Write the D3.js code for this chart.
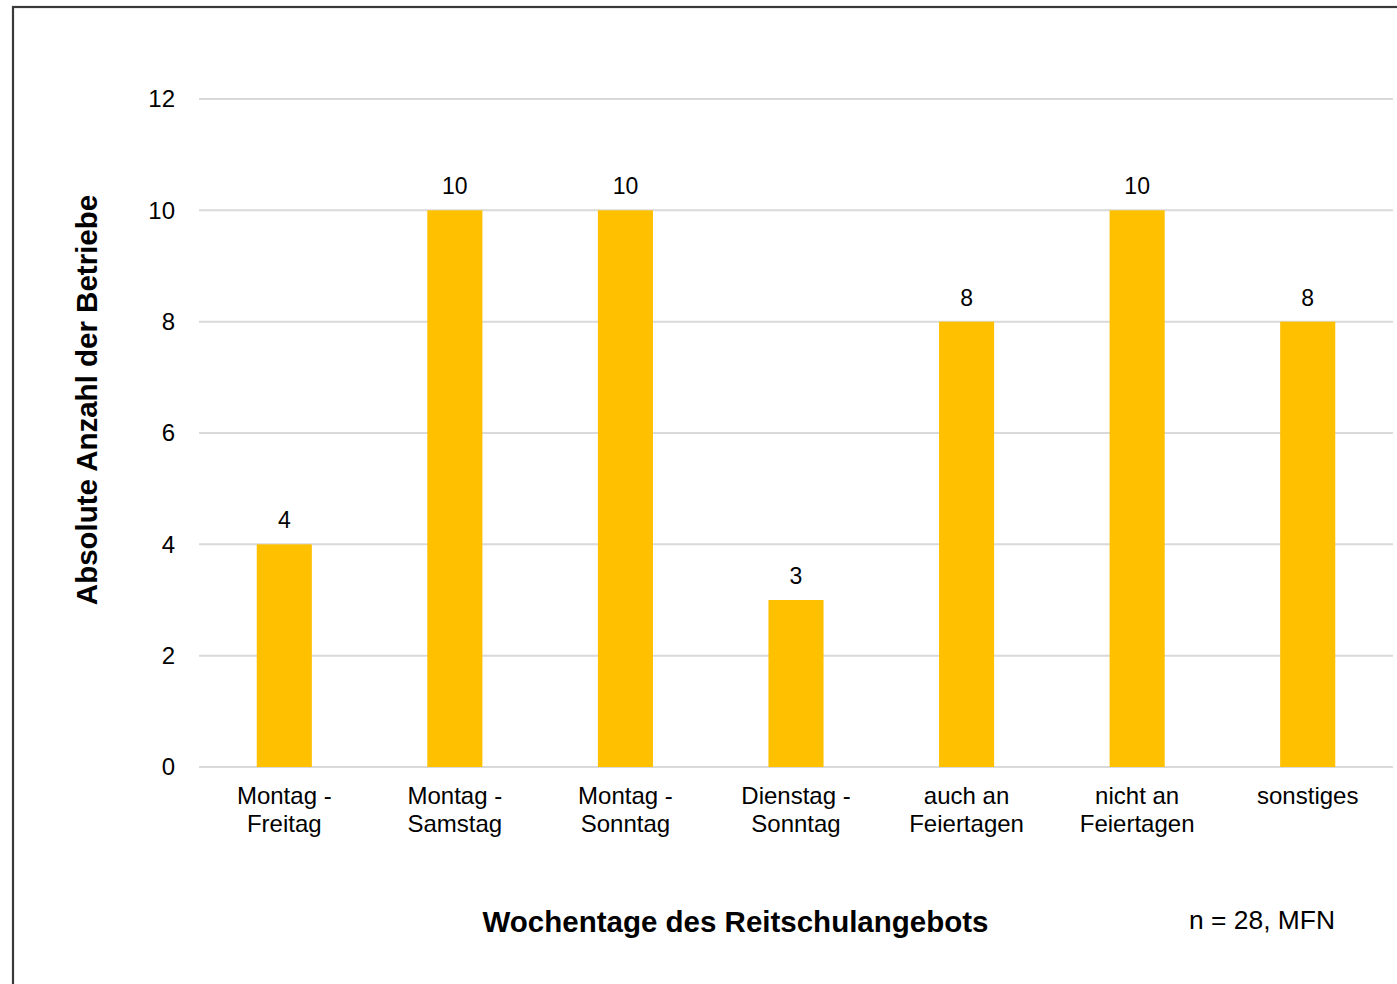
<!DOCTYPE html>
<html>
<head>
<meta charset="utf-8">
<script src="https://cdn.jsdelivr.net/npm/d3@7"></script>
<style>
  html, body { margin: 0; padding: 0; background: #fff; }
  svg { display: block; font-family: 'Liberation Sans', Arial, sans-serif; }
</style>
</head>
<body>
<svg id="chart" width="1397" height="984"></svg>
<script>
// categories (two-line labels) and counts
const categories = [
  ['Montag -', 'Freitag'],
  ['Montag -', 'Samstag'],
  ['Montag -', 'Sonntag'],
  ['Dienstag -', 'Sonntag'],
  ['auch an', 'Feiertagen'],
  ['nicht an', 'Feiertagen'],
  ['sonstiges']
]
const counts = [4, 10, 10, 3, 8, 10, 8]
const yTicks = [0, 2, 4, 6, 8, 10, 12]

const svg = d3.select('#chart')
const plotLeft = 199
const plotRight = 1393
const plotTop = 99
const plotBottom = 767

// outer frame, runs off the right and bottom edge
svg.append('rect')
  .attr('x', 13).attr('y', 7)
  .attr('width', 1500).attr('height', 1100)
  .attr('fill', 'none').attr('stroke', '#3a3a3a').attr('stroke-width', 2.2)

const x = d3.scaleBand()
  .domain(d3.range(categories.length))
  .range([plotLeft, plotRight])
  .paddingInner(0.677)
  .paddingOuter(0.3385)

const y = d3.scaleLinear().domain([0, 12]).range([plotBottom, plotTop])

// gridlines
svg.append('g').selectAll('line')
  .data(yTicks)
  .join('line')
  .attr('x1', plotLeft).attr('x2', plotRight)
  .attr('y1', d => y(d)).attr('y2', d => y(d))
  .attr('stroke', '#d9d9d9').attr('stroke-width', 2)

// y axis labels
const yAxis = svg.append('g')
  .attr('transform', `translate(${plotLeft},0)`)
  .call(d3.axisLeft(y).tickValues(yTicks).tickSize(0).tickPadding(24))
yAxis.select('.domain').remove()
yAxis.selectAll('text')
  .attr('font-size', 24).attr('fill', '#000')
  .attr('font-family', "'Liberation Sans', Arial, sans-serif")

// bars
svg.append('g').selectAll('rect')
  .data(counts)
  .join('rect')
  .attr('x', (d, i) => x(i))
  .attr('width', x.bandwidth())
  .attr('y', d => y(d))
  .attr('height', d => y(0) - y(d))
  .attr('fill', '#ffc000')

// value labels
svg.append('g').selectAll('text')
  .data(counts)
  .join('text')
  .attr('x', (d, i) => x(i) + x.bandwidth() / 2)
  .attr('y', d => y(d) - 16)
  .attr('text-anchor', 'middle')
  .attr('font-size', 23)
  .attr('fill', '#000')
  .text(d => d)

// category labels
const cat = svg.append('g').selectAll('text')
  .data(categories)
  .join('text')
  .attr('x', (d, i) => x(i) + x.bandwidth() / 2)
  .attr('y', 804)
  .attr('text-anchor', 'middle')
  .attr('font-size', 24)
  .attr('fill', '#000')
cat.selectAll('tspan')
  .data(d => d)
  .join('tspan')
  .attr('x', function () { return this.parentNode.getAttribute('x') })
  .attr('dy', (d, j) => j === 0 ? 0 : 28)
  .text(d => d)

// axis titles
svg.append('text')
  .attr('x', 735.5).attr('y', 932)
  .attr('text-anchor', 'middle')
  .attr('font-size', 29.5).attr('font-weight', 'bold')
  .text('Wochentage des Reitschulangebots')

svg.append('text')
  .attr('transform', 'translate(97,400) rotate(-90)')
  .attr('text-anchor', 'middle')
  .attr('font-size', 29.5).attr('font-weight', 'bold')
  .text('Absolute Anzahl der Betriebe')

svg.append('text')
  .attr('x', 1335).attr('y', 929)
  .attr('text-anchor', 'end')
  .attr('font-size', 26.4)
  .text('n = 28, MFN')
</script>
</body>
</html>
